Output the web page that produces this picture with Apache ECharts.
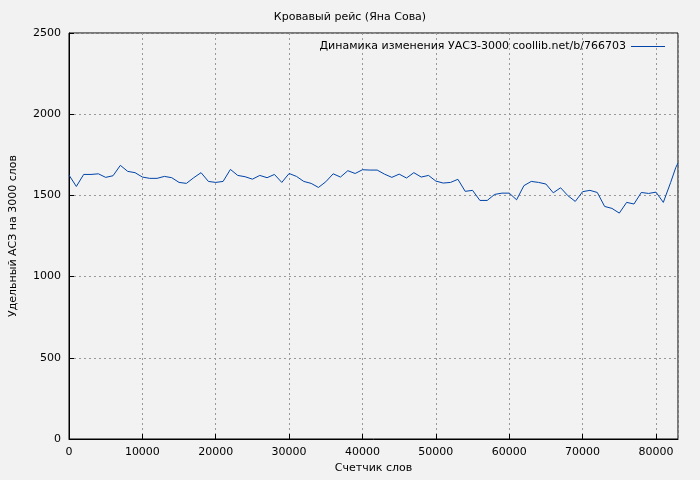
<!DOCTYPE html>
<html><head><meta charset="utf-8">
<script src="https://cdn.jsdelivr.net/npm/echarts@6/dist/echarts.min.js"></script>
<style>html,body{margin:0;background:#f2f2f2}#c{width:700px;height:480px}</style>
</head><body><div id="c"></div>
<script>
// счетчик слов
var words = [0,1000,2000,3000,4000,5000,6000,7000,8000,9000,10000,11000,12000,13000,14000,15000,16000,17000,18000,19000,
  20000,21000,22000,23000,24000,25000,26000,27000,28000,29000,30000,31000,32000,33000,34000,35000,36000,37000,38000,39000,
  40000,41000,42000,43000,44000,45000,46000,47000,48000,49000,50000,51000,52000,53000,54000,55000,56000,57000,58000,59000,
  60000,61000,62000,63000,64000,65000,66000,67000,68000,69000,70000,71000,72000,73000,74000,75000,76000,77000,78000,79000,
  80000,81000,82000,82700,83000];
// удельный АСЗ
var uasz = [1625,1555,1629,1629,1633,1611,1621,1685,1648,1640,1613,1605,1605,1617,1609,1580,1574,1609,1640,1586,
  1580,1586,1660,1623,1615,1600,1623,1609,1629,1580,1635,1617,1586,1574,1549,1584,1633,1613,1652,1635,
  1658,1656,1656,1631,1611,1631,1607,1640,1613,1623,1588,1576,1580,1599,1525,1531,1469,1469,1506,1514,
  1514,1473,1560,1586,1580,1570,1516,1547,1498,1463,1523,1531,1518,1432,1420,1391,1457,1447,1518,1512,
  1520,1457,1580,1672,1699];

var pts = [];
for (var i = 0; i < words.length; i++) pts.push([words[i], uasz[i]]);

var ax = {
  axisLine: {show: true, onZero: false, lineStyle: {color: '#000'}},
  axisTick: {inside: true, lineStyle: {color: '#000'}},
  axisLabel: {color: '#000', fontSize: 11, fontFamily: 'DejaVu Sans', formatter: function (v) { return String(v); }},
  splitLine: {show: true, lineStyle: {color: '#999', type: [2, 3]}},
  nameLocation: 'middle',
  nameTextStyle: {color: '#000', fontSize: 11, fontFamily: 'DejaVu Sans'}
};
var chart = echarts.init(document.getElementById('c'));
chart.setOption({
  backgroundColor: '#f2f2f2',
  animation: false,
  title: {text: 'Кровавый рейс (Яна Сова)', left: 'center', top: 7,
    textStyle: {fontSize: 11, fontWeight: 'normal', color: '#000', fontFamily: 'DejaVu Sans'}},
  legend: {right: 30, top: 36, itemWidth: 34, itemHeight: 1, icon: 'rect', align: 'right',
    textStyle: {fontSize: 11, color: '#000', fontFamily: 'DejaVu Sans'}},
  grid: {left: 67, right: 22, top: 33, bottom: 41, show: true, borderColor: '#000', borderWidth: 1},
  xAxis: Object.assign({}, ax, {type: 'value', min: 0, max: 83000, interval: 10000,
    name: 'Счетчик слов', nameGap: 21}),
  yAxis: Object.assign({}, ax, {type: 'value', min: 0, max: 2500, interval: 500,
    name: 'Удельный АСЗ на 3000 слов', nameGap: 50}),
  series: [{
    name: 'Динамика изменения УАСЗ-3000 coollib.net/b/766703',
    type: 'line', data: pts, showSymbol: false,
    itemStyle: {color: '#0044aa'},
    lineStyle: {color: '#0044aa', width: 1}
  }]
});
</script></body></html>
